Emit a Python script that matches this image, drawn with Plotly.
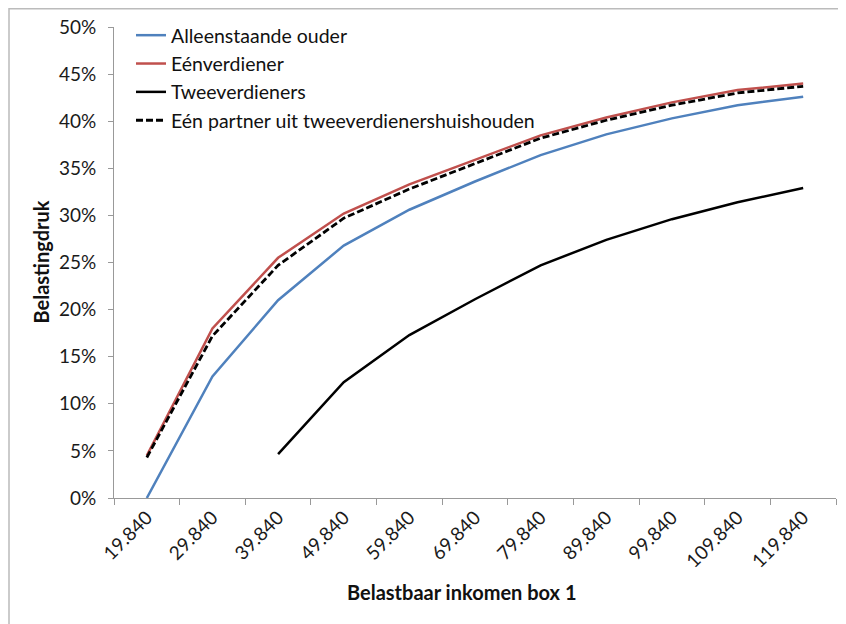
import plotly.graph_objects as go

categories = ["19.840", "29.840", "39.840", "49.840", "59.840", "69.840",
              "79.840", "89.840", "99.840", "109.840", "119.840"]
alleenstaande = [0.0, 12.9, 21.0, 26.8, 30.6, 33.6, 36.4, 38.6, 40.3, 41.7, 42.6]
eenverdiener = [4.5, 18.0, 25.5, 30.2, 33.3, 35.9, 38.5, 40.4, 42.0, 43.3, 44.0]
tweeverdieners = [None, None, 4.65, 12.3, 17.3, 21.1, 24.7, 27.4, 29.6, 31.4, 32.9]
een_partner = [4.3, 17.2, 24.7, 29.7, 32.8, 35.5, 38.2, 40.1, 41.7, 43.0, 43.7]
y_ticks = [0, 5, 10, 15, 20, 25, 30, 35, 40, 45, 50]

FONT = "Lato, 'Open Sans', sans-serif"
OFF = 8  # page body margin
W, H = 846 - OFF, 624 - OFF
L, R, T, B = 114 - OFF, 10, 27 - OFF, 126
PW, PH = W - L - R, H - T - B


def px_x(sx):
    return (sx - OFF - L) / PW


def px_y(sy):
    return (H - B - (sy - OFF)) / PH


fig = go.Figure()
fig.add_trace(go.Scatter(x=categories, y=alleenstaande, mode="lines",
                         name="Alleenstaande ouder",
                         line=dict(color="#4F81BD", width=2.5)))
fig.add_trace(go.Scatter(x=categories, y=eenverdiener, mode="lines",
                         name="Eénverdiener",
                         line=dict(color="#C0504D", width=2.5)))
fig.add_trace(go.Scatter(x=categories, y=tweeverdieners, mode="lines",
                         name="Tweeverdieners",
                         line=dict(color="#000000", width=2.5)))
fig.add_trace(go.Scatter(x=categories, y=een_partner, mode="lines",
                         name="Eén partner uit tweeverdienershuishouden",
                         line=dict(color="#000000", width=2.8, dash="7px,3px")))

fig.update_layout(
    width=W, height=H,
    margin=dict(l=L, r=R, t=T, b=B, autoexpand=False),
    paper_bgcolor="white", plot_bgcolor="white",
    font=dict(family=FONT, size=18, color="#1a1a1a"),
    showlegend=True,
    legend=dict(x=px_x(131), y=px_y(16), xanchor="left", yanchor="top",
                bgcolor="rgba(0,0,0,0)", font=dict(size=19.5, color="#111"),
                itemwidth=30, tracegroupgap=0),
    xaxis=dict(type="category", range=[-0.5, 10.5], tickson="boundaries",
               ticks="outside", ticklen=6, tickcolor="#999", showline=True,
               linecolor="#999", linewidth=1, showgrid=False, tickangle=-45,
               automargin=False,
               tickfont=dict(size=19, color="#1a1a1a")),
    yaxis=dict(range=[0, 50], tickvals=y_ticks,
               ticktext=[f"{v}%" for v in y_ticks],
               ticks="outside", ticklen=5, tickcolor="#999", showline=True,
               linecolor="#999", linewidth=1, showgrid=False, zeroline=False,
               automargin=False, ticklabelstandoff=8,
               tickfont=dict(size=19, color="#1a1a1a")),
)

fig.add_annotation(text="<b>Belastingdruk</b>", xref="paper", yref="paper",
                   x=px_x(40), y=0.5, showarrow=False, textangle=-90,
                   xanchor="center", yanchor="middle",
                   font=dict(size=20, color="#111"))
fig.add_annotation(text="<b>Belastbaar inkomen box 1</b>", xref="paper", yref="paper",
                   x=px_x(461), y=px_y(592), showarrow=False,
                   xanchor="center", yanchor="middle",
                   font=dict(size=20, color="#111"))

fig.add_shape(type="rect", xref="paper", yref="paper",
              x0=px_x(9), x1=px_x(842),
              y0=px_y(640), y1=px_y(8.7),
              line=dict(color="#bbbbbb", width=1.5), layer="below")

fig.write_html("out.html")
